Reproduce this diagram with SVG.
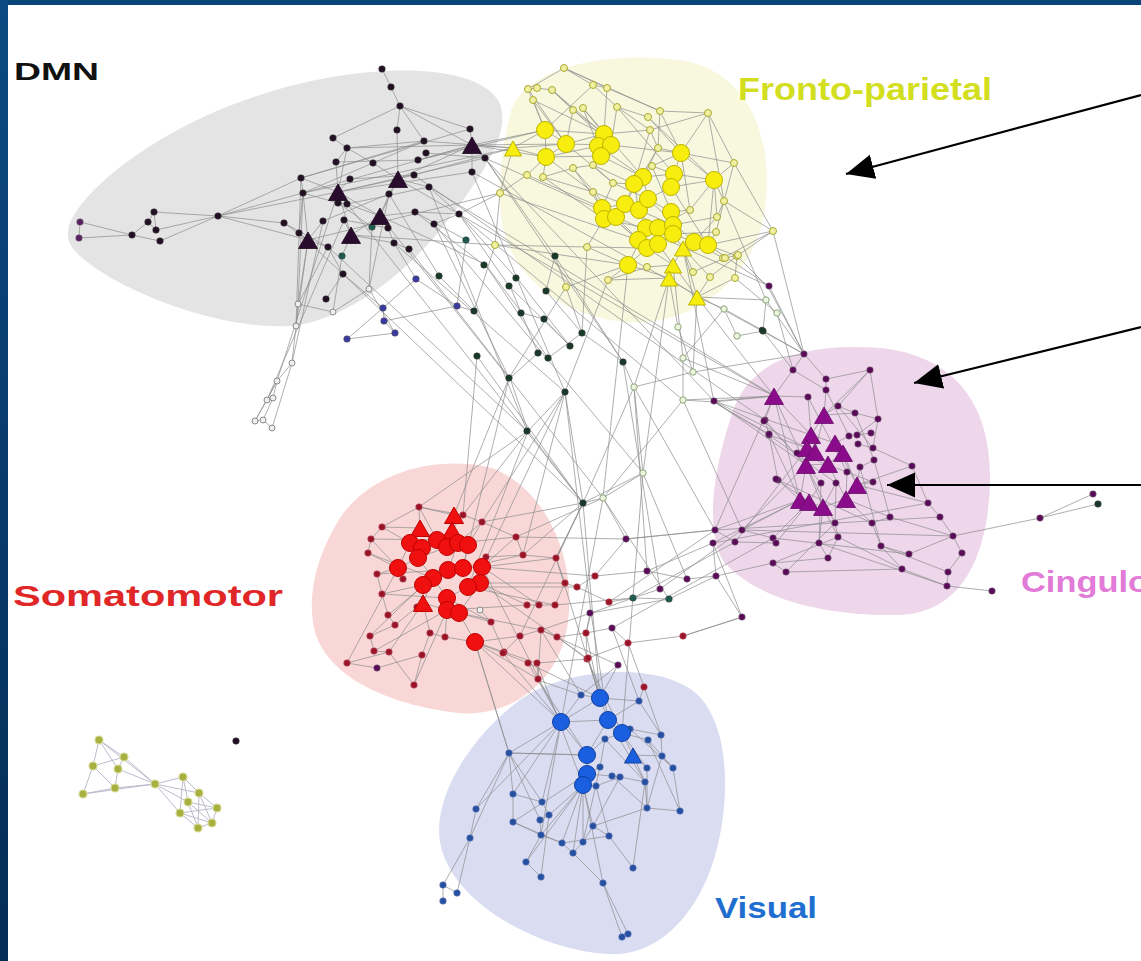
<svg xmlns="http://www.w3.org/2000/svg" xmlns:xlink="http://www.w3.org/1999/xlink" width="1141" height="961" viewBox="0 0 1141 961">
<defs>
<linearGradient id="frame" x1="0" y1="0" x2="0" y2="1"><stop offset="0" stop-color="#0b4a82"/><stop offset="1" stop-color="#052c55"/></linearGradient>
<marker id="ah" markerUnits="userSpaceOnUse" markerWidth="30" markerHeight="28" refX="28" refY="12.5" orient="auto"><path d="M0,0 L28,12.5 L0,25 Z" fill="#000"/></marker>
<path id="t" d="M0,-10 L9.5,6.5 L-9.5,6.5 Z"/>
<path id="ts" d="M0,-9 L8.5,6 L-8.5,6 Z"/>
<style>
.e{fill:none;stroke:#8e8e8e;stroke-width:0.9;opacity:0.8}
.eo{fill:none;stroke:#b4b4c8;stroke-width:0.9}
.lbl{font-family:"Liberation Sans",Arial,sans-serif;font-weight:bold}
.d{fill:#221022;stroke:#444;stroke-width:0.5}
.dp{fill:#5a2060;stroke:#777;stroke-width:0.5}
.dt{fill:#2a0c2e;stroke:#1a0a1a;stroke-width:0.8}
.tl{fill:#1f5a4e;stroke:#444;stroke-width:0.5}
.g{fill:#eeeeee;stroke:#8a8a8a;stroke-width:1}
.bp{fill:#3a3aa0;stroke:#555;stroke-width:0.5}
.dg{fill:#183828;stroke:#444;stroke-width:0.5}
.lg{fill:#eef3e0;stroke:#8aa878;stroke-width:1}
.ys{fill:#f0f0a0;stroke:#a8a830;stroke-width:1}
.yb{fill:#f7ee10;stroke:#bdb400;stroke-width:1}
.pt{fill:#8a0c8a;stroke:#6a0a6a;stroke-width:0.8}
.ps{fill:#5a0a58;stroke:#888;stroke-width:0.5}
.rb{fill:#f01010;stroke:#c00000;stroke-width:1}
.rs{fill:#9a1428;stroke:#c06070;stroke-width:0.6}
.bb{fill:#1a5fe0;stroke:#1040a0;stroke-width:1}
.bs{fill:#2450a0;stroke:#7080c0;stroke-width:0.6}
.ol{fill:#a8b040;stroke:#d8dc98;stroke-width:1.2}
.arr{stroke:#000;stroke-width:2.2;fill:none;marker-end:url(#ah)}
</style>
</defs>
<rect x="0" y="0" width="1141" height="961" fill="#ffffff"/>
<rect x="0" y="0" width="1141" height="5" fill="#0a4478"/>
<rect x="0" y="0" width="8" height="961" fill="url(#frame)"/>

<g id="regions">
<path d="M68,232 C70,200 150,130 260,95 C350,65 470,58 498,100 C515,130 480,180 440,230 C400,280 340,322 290,326 C220,330 120,292 80,256 C70,247 67,240 68,232 Z" fill="#e4e4e4"/>
<path d="M510,115 C520,70 600,50 680,60 C745,70 772,130 766,200 C760,272 700,326 628,322 C560,318 500,272 500,200 C500,160 504,140 510,115 Z" fill="#f8f8de"/>
<path d="M730,420 C745,362 800,342 880,348 C952,355 992,402 990,482 C988,562 958,614 898,615 C830,616 760,602 724,562 C704,530 714,470 730,420 Z" fill="#eed6eb"/>
<path d="M340,518 C372,470 440,455 492,468 C548,490 576,560 568,622 C560,684 508,718 458,713 C398,706 330,682 315,632 C305,592 320,550 340,518 Z" fill="#f9d7d7"/>
<path d="M520,700 C560,670 650,660 692,690 C732,720 730,802 716,852 C700,912 660,957 608,954 C538,950 450,902 440,842 C432,792 478,730 520,700 Z" fill="#dadcf2"/>
</g>

<g id="connectors">
<path class="e" d="M80 222L79 238M80 222L132 235M79 238L132 235M132 235L148 222M132 235L160 241M148 222L154 212M154 212L218 216M156 230L218 216M160 241L218 216M148 222L156 230M154 212L156 230M218 216L301 178M218 216L303 193M218 216L284 223M218 216L308 240M218 216L338 192M382 69L391 87M391 87L400 106M400 106L397 130M400 106L470 129M400 106L472 145M400 106L424 141M400 106L333 138M397 130L398 179M333 138L347 148M347 148L338 192M347 148L336 162M347 148L424 141M347 148L472 145M336 162L338 192M373 163L398 179M373 163L347 148M350 179L338 192M301 178L303 193M301 178L338 192M303 193L308 240M303 193L338 203M303 193L472 145M303 193L424 141M301 178L470 129M338 192L380 216M338 192L351 235M338 192L398 179M338 192L485 158M338 192L472 172M338 203L347 204M347 204L380 216M323 221L308 240M344 220L351 235M284 223L308 240M299 233L308 240M308 240L328 247M308 240L296 326M308 240L298 304M328 247L343 274M343 274L326 299M351 235L342 256M351 235L380 216M351 235L394 243M380 216L398 179M380 216L415 212M380 216L389 194M380 216L372 227M380 216L388 228M398 179L389 194M398 179L472 145M398 179L429 187M398 179L414 175M472 145L470 129M472 145L485 158M472 145L472 172M472 145L418 160M472 145L513 148M472 145L545 130M472 145L566 144M472 145L546 157M426 153L485 158M424 141L513 148M418 160L545 130M414 175L513 148M429 187L459 214M415 212L459 214M434 224L459 214M409 249L394 243M388 228L394 243M372 227L369 289M389 194L369 289M342 256L333 312M328 247L298 304M343 274L383 308M394 243L416 279M416 279L383 308M383 308L384 321M384 321L395 333M395 333L347 339M347 339L383 308M416 279L457 306M457 306L384 321M457 306L474 311M439 276L474 311M466 240L457 306M466 240L415 212M459 214L509 286M459 214L516 278M434 224L509 378M429 187L527 431M485 158L555 256M485 158L623 362M472 172L565 392M296 326L292 363M292 363L277 381M277 381L267 400M277 381L273 398M267 400L255 421M273 398L263 420M263 420L272 428M255 421L263 420M296 326L298 304M298 304L303 193M296 326L301 178M292 363L323 221M277 381L338 192M267 400L344 220M272 428L292 363M255 421L277 381M333 312L369 289M333 312L298 304M369 289L395 333M338 192L583 503M380 216L509 378M394 243L565 392M409 249L603 498M328 247L527 431M434 224L643 473M459 214L683 400M343 274L583 503M398 179L774 396M472 145L714 401M429 187L773 395M485 158L769 286M472 172L804 354M414 175L765 420M303 193L513 148M308 240L500 193M351 235L495 245M380 216L485 264M389 194L439 276M415 212L484 265M301 178L424 141M336 162L418 160M350 179L414 175M347 204L429 187M323 221L389 194M344 220L388 228M299 233L343 274M284 223L328 247M303 193L299 233M338 203L372 227"/>
<path class="e" d="M564 68L593 85M564 68L528 89M564 68L607 88M564 68L660 111M593 85L607 88M593 85L617 107M593 85L545 130M607 88L604 134M607 88L660 111M528 89L537 88M537 88L552 90M528 89L545 130M533 100L545 130M533 100L566 144M552 90L573 110M552 90L604 134M583 108L604 134M573 110L566 144M617 107L611 145M617 107L648 117M660 111L708 113M660 111L681 153M648 117L681 153M708 113L734 163M708 113L681 153M708 113L650 130M650 130L604 134M658 148L681 153M658 148L643 177M734 163L714 180M734 163L724 201M734 163L681 153M724 201L714 180M724 201L717 217M724 201L773 231M773 231L737 256M773 231L708 245M716 232L708 245M717 217L694 242M690 210L671 212M690 210L714 180M545 130L566 144M545 130L546 157M566 144L546 157M566 144L604 134M546 157L598 146M546 157L527 175M546 157L543 177M604 134L611 145M604 134L598 146M598 146L601 156M611 145L601 156M601 156L643 177M601 156L593 165M573 168L593 165M573 168L602 208M593 165L634 184M613 183L634 184M613 183L602 208M652 166L643 177M652 166L674 174M643 177L634 184M643 177L674 174M674 174L671 187M674 174L681 153M671 187L714 180M671 187L648 199M634 184L625 204M625 204L602 208M602 208L604 219M604 219L616 217M616 217L625 204M625 204L639 210M639 210L648 199M648 199L671 212M671 212L673 225M673 225L658 228M658 228L646 228M646 228L639 210M646 228L638 240M638 240L647 248M647 248L658 244M658 244L673 234M673 234L694 242M694 242L708 245M673 234L683 248M683 248L673 265M673 265L669 278M669 278L697 297M683 248L697 297M647 248L628 265M628 265L608 280M628 265L587 247M587 247L604 219M593 192L602 208M593 192L543 177M527 175L500 193M500 193L495 245M495 245L587 247M543 177L573 168M513 148L545 130M513 148L546 157M513 148L500 193M513 148L566 144M710 277L697 297M735 278L697 297M737 256L708 245M723 258L694 242M725 258L738 255M693 272L683 248M647 267L673 265M608 280L669 278M566 287L628 265M608 280L647 267M545 130L604 134M566 144L611 145M546 157L601 156M598 146L643 177M611 145L681 153M604 219L646 228M616 217L647 248M602 208L638 240M625 204L658 228M639 210L673 225M648 199L694 242M671 187L708 245M674 174L714 180M643 177L648 199M634 184L639 210M652 166L681 153M658 148L650 130M593 165L613 183M573 110L604 134M583 108L598 146M617 107L650 130M660 111L658 148M681 153L714 180M714 180L708 245M717 217L673 225M716 232L673 234M690 210L658 228M628 265L646 228M638 240L602 208M697 297L658 244M669 278L628 265M673 265L647 248M683 248L708 245M737 256L735 278M710 277L683 248M533 100L604 134M528 89L566 144M552 90L611 145M583 108L643 177M617 107L674 174M648 117L714 180M708 113L724 201M650 130L634 184M658 148L625 204M566 144L613 183M546 157L593 192M527 175L602 208M543 177L604 219M573 168L616 217M500 193L638 240M495 245L628 265M587 247L647 248M593 192L639 210M613 183L648 199M652 166L671 212M681 153L690 210M714 180L717 217M724 201L716 232M773 231L723 258M738 255L710 277M725 258L693 272M734 163L773 231"/>
<path class="e" d="M697 297L724 309M697 297L766 300M669 278L678 327M669 278L634 387M673 265L683 358M697 297L773 395M708 245L769 286M737 256L768 287M735 278L777 313M773 231L804 354M724 201L766 300M669 278L643 473M628 265L603 498M683 248L714 402M697 297L693 372M587 247L582 333M608 280L565 392M566 287L509 378M500 193L459 214M495 245L474 311M724 309L737 336M737 336L763 331M724 309L683 358M678 327L693 372M683 358L683 400M693 372L634 387M634 387L643 473M643 473L603 498M683 400L603 498M683 400L714 402M714 402L774 396M714 402L769 434M683 358L773 395M693 372L804 354M766 300L804 354M777 313L793 370M603 498L583 503M583 503L565 392M565 392L528 431M528 431L583 503M643 473L583 503M603 498L626 539M634 387L583 503M623 362L634 387M582 333L623 362M548 358L582 333M538 353L510 378M510 378L528 431M522 313L544 319M544 319L570 346M546 291L582 333M555 256L582 333M517 278L570 346M510 286L538 353M485 264L522 313M555 256L546 291M583 503L556 558M583 503L523 555M583 503L600 698M603 498L561 722M565 392L482 567M528 431L468 587M643 473L622 733M634 387L647 571M683 400L742 530M623 362L660 589M477 356L583 503M509 378L463 568M565 392L591 613M603 498L669 599M643 473L687 579M634 387L715 530M516 537L626 539M626 539L715 530M762 330L804 354M762 330L724 309M766 300L763 331M768 287L804 354M555 256L623 362M485 264L548 358M509 286L570 346"/>
<path class="e" d="M804 354L793 370M804 354L826 379M793 370L774 396M793 370L826 390M870 370L826 379M870 370L824 415M870 370L838 406M826 379L826 390M826 390L824 415M808 397L774 396M808 397L811 435M714 401L774 396M714 401L811 435M714 401L807 448M714 401L806 465M765 420L774 396M765 420L769 435M769 435L778 480M769 435L807 448M774 396L811 435M774 396L806 465M774 396L800 500M824 415L811 435M824 415L838 406M824 415L855 413M838 406L855 413M855 413L878 419M878 419L857 435M878 419L873 448M871 433L857 435M849 436L835 443M873 448L858 444M874 460L860 467M860 467L857 485M847 472L846 499M836 483L823 507M821 483L809 502M873 482L857 485M912 466L857 485M912 466L873 448M797 453L807 448M778 480L800 500M811 435L835 443M835 443L843 453M843 453L828 464M828 464L806 465M806 465L807 448M807 448L815 452M815 452L811 435M857 485L846 499M846 499L823 507M823 507L809 502M809 502L800 500M800 500L806 465M828 464L846 499M815 452L828 464M843 453L857 485M824 415L815 452M835 443L857 485M806 465L823 507M800 500L742 530M800 500L715 530M800 500L713 543M809 502L773 538M809 502L776 543M823 507L838 537M823 507L819 543M846 499L872 523M846 499L890 517M857 485L928 503M928 503L940 517M940 517L953 536M953 536L962 553M953 536L1040 518M1040 518L1093 494M1040 518L1098 504M953 536L909 554M909 554L881 546M881 546L902 569M948 572L947 586M947 586L992 591M948 572L962 553M902 569L947 586M872 523L881 546M835 523L838 537M838 537L828 558M819 543L828 558M828 558L773 563M773 563L786 572M773 538L742 530M776 543L735 542M735 542L715 530M713 543L716 576M716 576L773 563M742 617L713 543M742 617L716 576M742 530L806 465M735 542L807 448M715 530L774 396M890 517L872 523M890 517L953 536M835 523L806 465M838 537L902 569M881 546L948 572M819 543L947 586M786 572L902 569M773 538L909 554M742 530L953 536M715 530L940 517M713 543L928 503M715 530L626 539M713 543L647 571M742 530L660 589M716 576L669 599M716 576L687 579M742 617L683 636M735 542L633 598M715 530L609 602M773 538L612 628M774 396L683 400M769 435L714 402M743 617L683 636M762 330L793 370M769 286L804 354M769 434L800 500M764 421L806 465M776 479L809 502M773 563L838 537M786 572L835 523M870 370L878 419M838 406L873 448M855 413L874 460M826 390L849 436M808 397L847 472M765 420L821 483M769 435L836 483M797 453L873 482M778 480L872 523M912 466L928 503M874 460L890 517M860 467L881 546M836 483L835 523M821 483L819 543"/>
<path class="e" d="M419 507L420 528M419 507L454 515M419 507L382 527M419 507L463 515M463 515L454 515M463 515L482 522M482 522L516 537M482 522L468 545M382 527L371 539M382 527L410 543M371 539L398 568M368 553L398 568M368 553L371 539M377 574L398 568M377 574L382 594M382 594L423 585M382 594L388 615M403 579L398 568M388 615L395 625M395 625L370 636M370 636L374 651M374 651L389 652M389 652L347 663M347 663L377 668M377 668L422 655M422 655L430 633M430 633L445 637M445 637L447 610M430 633L423 603M417 607L423 603M417 607L395 625M414 685L422 655M414 685L389 652M486 557L482 567M523 555L486 557M523 555L556 558M556 558L565 583M516 537L523 555M480 610L491 622M491 622L504 652M504 652L520 636M520 636L541 630M541 630L557 637M527 605L539 605M539 605L555 605M555 605L565 583M565 583L577 587M577 587L595 576M591 613L586 633M586 633L587 659M587 659L537 663M537 663L538 679M527 605L480 583M539 605L482 567M555 605L468 587M491 622L459 613M475 642L504 652M475 642L459 613M475 642L445 637M475 642L538 679M475 642L520 636M475 642L561 722M475 642L509 753M410 543L422 548M422 548L437 540M437 540L447 547M447 547L458 543M458 543L468 545M398 568L418 558M418 558L433 578M433 578L423 585M423 585L448 570M448 570L463 568M463 568L482 567M482 567L480 583M480 583L468 587M468 587L447 598M447 598L447 610M447 610L459 613M420 528L410 543M454 515L452 530M452 530L458 543M420 528L437 540M423 603L433 578M398 568L410 543M418 558L447 547M448 570L458 543M463 568L468 545M433 578L447 598M423 585L423 603M459 613L480 583M447 610L423 603M371 539L437 540M368 553L433 578M377 574L448 570M382 594L447 598M388 615L433 578M370 636L423 585M374 651L447 610M389 652L423 603M347 663L398 568M516 537L458 543M523 555L463 568M556 558L482 567M565 583L480 583M577 587L468 587M595 576L482 567M527 605L447 610M541 630L459 613M557 637L480 583M491 622L447 598M382 527L420 528M419 507L437 540M463 515L452 530M482 522L458 543M516 537L482 567M591 613L541 630M586 633L557 637M587 659L557 637M537 663L504 652M538 679L541 630M414 685L447 610M595 576L626 539M595 576L647 571M577 587L609 602M591 613L633 598M586 633L612 628M591 613L669 599M557 637L588 659M541 630L618 665M555 605L633 598M520 636L583 503M556 558L583 503M523 555L565 392M482 522L565 392M463 515L528 431M454 515L509 378M516 537L603 498M482 522L583 503M419 507L528 431M463 515L477 356M609 602L633 598M633 598L669 599M612 628L628 643M586 634L590 613M683 636L628 643M647 571L687 579M660 589L633 598"/>
<path class="e" d="M600 698L581 695M600 698L608 720M600 698L639 701M600 698L561 722M600 698L588 658M600 698L618 665M581 695L561 722M581 695L538 680M561 722L608 720M561 722L587 755M561 722L509 753M561 722L513 794M561 722L541 835M608 720L622 733M608 720L639 701M608 720L587 755M622 733L630 729M622 733L633 755M622 733L648 740M622 733L605 739M639 701L644 687M639 701L661 735M630 729L661 735M661 735L662 756M662 756L673 768M648 740L673 768M633 755L647 768M633 755L645 782M633 755L662 756M645 782L647 808M647 808L680 811M673 768L680 811M587 755L605 739M587 755L587 774M587 774L583 785M587 774L600 767M587 774L612 776M612 776L620 777M620 777L645 782M583 785L596 786M583 785L541 835M583 785L562 843M583 785L573 853M583 785L583 842M583 785L593 826M583 785L549 815M583 785L526 862M583 785L603 883M587 755L509 753M587 774L513 822M509 753L513 794M509 753L476 809M509 753L542 802M509 753L540 820M509 753L470 838M509 753L587 755M513 794L513 822M513 794L542 802M476 809L470 838M470 838L443 885M470 838L457 893M443 885L457 893M443 885L443 901M513 822L541 835M542 802L549 815M549 815L540 820M540 820L541 835M541 835L526 862M541 835L562 843M562 843L573 853M573 853L583 842M583 842L593 826M593 826L609 836M609 836L633 868M593 826L647 808M603 883L622 937M603 883L628 934M603 883L573 853M526 862L541 877M541 877L549 815M562 843L609 836M600 767L605 739M596 786L620 777M561 722L476 809M608 720L645 782M622 733L647 768M561 722L542 802M513 822L562 843M503 653L528 663M528 663L538 680M538 680L561 722M503 653L475 642M588 658L600 698M588 658L628 643M628 643L644 687M618 665L581 695M644 687L661 735M528 663L600 698M503 653L561 722M538 680L587 755M561 722L482 567M600 698L556 558M608 720L591 613M581 695L541 630M600 698L586 633M622 733L587 659M639 701L612 628M583 785L537 663M509 753L475 642M630 729L673 768M648 740L680 811M605 739L645 782M612 776L647 808M600 767L583 842M596 786L609 836M620 777L593 826M645 782L633 868M647 768L647 808M662 756L647 808"/>
<path class="eo" d="M99 740L124 757M99 740L93 766M99 740L118 769M99 740L155 784M124 757L118 769M124 757L93 766M124 757L155 784M93 766L83 794M93 766L115 788M118 769L115 788M118 769L155 784M115 788L83 794M115 788L155 784M83 794L155 784M155 784L183 777M155 784L199 793M155 784L188 802M155 784L180 813M183 777L199 793M183 777L188 802M183 777L180 813M199 793L217 808M199 793L212 823M188 802L217 808M188 802L198 828M180 813L212 823M180 813L198 828M217 808L212 823M212 823L198 828M199 793L198 828M188 802L212 823M180 813L217 808"/>
</g>

<g id="dmn-nodes">
<circle class="dp" cx="80" cy="222" r="3.3"/><circle class="dp" cx="79" cy="238" r="3.3"/>
<circle class="d" cx="382" cy="69" r="3.3"/><circle class="d" cx="391" cy="87" r="3.3"/><circle class="d" cx="400" cy="106" r="3.3"/><circle class="d" cx="397" cy="130" r="3.3"/><circle class="d" cx="333" cy="138" r="3.3"/><circle class="d" cx="347" cy="148" r="3.3"/><circle class="d" cx="336" cy="162" r="3.3"/><circle class="d" cx="373" cy="163" r="3.3"/><circle class="d" cx="350" cy="179" r="3.3"/><circle class="d" cx="301" cy="178" r="3.3"/><circle class="d" cx="303" cy="193" r="3.3"/><circle class="d" cx="338" cy="203" r="3.3"/><circle class="d" cx="347" cy="204" r="3.3"/><circle class="d" cx="323" cy="221" r="3.3"/><circle class="d" cx="344" cy="220" r="3.3"/><circle class="d" cx="284" cy="223" r="3.3"/><circle class="d" cx="299" cy="233" r="3.3"/><circle class="d" cx="328" cy="247" r="3.3"/><circle class="d" cx="343" cy="274" r="3.3"/><circle class="d" cx="326" cy="299" r="3.3"/><circle class="d" cx="389" cy="194" r="3.3"/><circle class="d" cx="388" cy="228" r="3.3"/><circle class="d" cx="415" cy="212" r="3.3"/><circle class="d" cx="429" cy="187" r="3.3"/><circle class="d" cx="459" cy="214" r="3.3"/><circle class="d" cx="434" cy="224" r="3.3"/><circle class="d" cx="394" cy="243" r="3.3"/><circle class="d" cx="409" cy="249" r="3.3"/><circle class="d" cx="470" cy="129" r="3.3"/><circle class="d" cx="424" cy="141" r="3.3"/><circle class="d" cx="426" cy="153" r="3.3"/><circle class="d" cx="418" cy="160" r="3.3"/><circle class="d" cx="414" cy="175" r="3.3"/><circle class="d" cx="485" cy="158" r="3.3"/><circle class="d" cx="472" cy="172" r="3.3"/><circle class="d" cx="218" cy="216" r="3.3"/><circle class="d" cx="154" cy="212" r="3.3"/><circle class="d" cx="148" cy="222" r="3.3"/><circle class="d" cx="156" cy="230" r="3.3"/><circle class="d" cx="160" cy="241" r="3.3"/><circle class="d" cx="132" cy="235" r="3.3"/>
<circle class="tl" cx="342" cy="256" r="3.3"/><circle class="tl" cx="372" cy="227" r="3.3"/><circle class="tl" cx="466" cy="240" r="3.3"/>
<use href="#t" class="dt" x="338" y="194"/><use href="#t" class="dt" x="398" y="181"/><use href="#t" class="dt" x="472" y="147"/><use href="#t" class="dt" x="380" y="218"/><use href="#t" class="dt" x="351" y="237"/><use href="#t" class="dt" x="308" y="242"/>
<circle class="g" cx="369" cy="289" r="3"/><circle class="g" cx="333" cy="312" r="3"/><circle class="g" cx="298" cy="304" r="3"/><circle class="g" cx="296" cy="326" r="3"/><circle class="g" cx="292" cy="363" r="3"/><circle class="g" cx="277" cy="381" r="3"/><circle class="g" cx="267" cy="400" r="3"/><circle class="g" cx="273" cy="398" r="3"/><circle class="g" cx="255" cy="421" r="3"/><circle class="g" cx="263" cy="420" r="3"/><circle class="g" cx="272" cy="428" r="3"/>
<circle class="bp" cx="416" cy="279" r="3.3"/><circle class="bp" cx="383" cy="308" r="3.3"/><circle class="bp" cx="384" cy="321" r="3.3"/><circle class="bp" cx="395" cy="333" r="3.3"/><circle class="bp" cx="347" cy="339" r="3.3"/><circle class="bp" cx="457" cy="306" r="3.3"/>
</g>

<g id="mid-nodes">
<circle class="dg" cx="484" cy="265" r="3.3"/><circle class="dg" cx="439" cy="276" r="3.3"/><circle class="dg" cx="474" cy="311" r="3.3"/><circle class="dg" cx="516" cy="278" r="3.3"/><circle class="dg" cx="509" cy="286" r="3.3"/><circle class="dg" cx="521" cy="313" r="3.3"/><circle class="dg" cx="477" cy="356" r="3.3"/><circle class="dg" cx="509" cy="378" r="3.3"/><circle class="dg" cx="527" cy="431" r="3.3"/><circle class="dg" cx="555" cy="256" r="3.3"/><circle class="dg" cx="546" cy="291" r="3.3"/><circle class="dg" cx="544" cy="319" r="3.3"/><circle class="dg" cx="582" cy="333" r="3.3"/><circle class="dg" cx="570" cy="346" r="3.3"/><circle class="dg" cx="538" cy="353" r="3.3"/><circle class="dg" cx="548" cy="358" r="3.3"/><circle class="dg" cx="623" cy="362" r="3.3"/><circle class="dg" cx="565" cy="392" r="3.3"/><circle class="dg" cx="583" cy="503" r="3.3"/><circle class="dg" cx="763" cy="331" r="3.3"/><circle class="dg" cx="762" cy="330" r="3"/>
<circle class="lg" cx="603" cy="498" r="3.2"/><circle class="lg" cx="643" cy="473" r="3.2"/><circle class="lg" cx="634" cy="387" r="3.2"/><circle class="lg" cx="683" cy="400" r="3.2"/><circle class="lg" cx="693" cy="372" r="3.2"/><circle class="lg" cx="683" cy="358" r="3.2"/><circle class="lg" cx="678" cy="327" r="3.2"/><circle class="lg" cx="724" cy="309" r="3.2"/><circle class="lg" cx="737" cy="336" r="3.2"/><circle class="lg" cx="766" cy="300" r="3.2"/><circle class="lg" cx="777" cy="313" r="3.2"/>
</g>

<g id="fronto-parietal-nodes">
<circle class="ys" cx="564" cy="68" r="3.5"/><circle class="ys" cx="593" cy="85" r="3.5"/><circle class="ys" cx="607" cy="88" r="3.5"/><circle class="ys" cx="528" cy="89" r="3.5"/><circle class="ys" cx="537" cy="88" r="3.5"/><circle class="ys" cx="552" cy="90" r="3.5"/><circle class="ys" cx="533" cy="100" r="3.5"/><circle class="ys" cx="583" cy="108" r="3.5"/><circle class="ys" cx="573" cy="110" r="3.5"/><circle class="ys" cx="617" cy="107" r="3.5"/><circle class="ys" cx="660" cy="111" r="3.5"/><circle class="ys" cx="708" cy="113" r="3.5"/><circle class="ys" cx="648" cy="117" r="3.5"/><circle class="ys" cx="734" cy="163" r="3.5"/><circle class="ys" cx="724" cy="201" r="3.5"/><circle class="ys" cx="773" cy="231" r="3.5"/><circle class="ys" cx="527" cy="175" r="3.5"/><circle class="ys" cx="500" cy="193" r="3.5"/><circle class="ys" cx="543" cy="177" r="3.5"/><circle class="ys" cx="495" cy="245" r="3.5"/><circle class="ys" cx="587" cy="247" r="3.5"/><circle class="ys" cx="608" cy="280" r="3.5"/><circle class="ys" cx="737" cy="256" r="3.5"/><circle class="ys" cx="723" cy="258" r="3.5"/><circle class="ys" cx="735" cy="278" r="3.5"/><circle class="ys" cx="710" cy="277" r="3.5"/><circle class="ys" cx="573" cy="168" r="3.5"/><circle class="ys" cx="593" cy="165" r="3.5"/><circle class="ys" cx="613" cy="183" r="3.5"/><circle class="ys" cx="652" cy="166" r="3.5"/><circle class="ys" cx="650" cy="130" r="3.5"/><circle class="ys" cx="658" cy="148" r="3.5"/><circle class="ys" cx="593" cy="192" r="3.5"/><circle class="ys" cx="717" cy="217" r="3.5"/><circle class="ys" cx="716" cy="232" r="3.5"/><circle class="ys" cx="690" cy="210" r="3.5"/><circle class="ys" cx="566" cy="287" r="3.5"/><circle class="ys" cx="647" cy="267" r="3.5"/><circle class="ys" cx="693" cy="272" r="3.5"/><circle class="ys" cx="725" cy="258" r="3.5"/><circle class="ys" cx="738" cy="255" r="3.5"/>
<circle class="yb" cx="545" cy="130" r="8.5"/><circle class="yb" cx="566" cy="144" r="8.5"/><circle class="yb" cx="546" cy="157" r="8.5"/><circle class="yb" cx="604" cy="134" r="8.5"/><circle class="yb" cx="598" cy="146" r="8.5"/><circle class="yb" cx="611" cy="145" r="8.5"/><circle class="yb" cx="601" cy="156" r="8.5"/><circle class="yb" cx="681" cy="153" r="8.5"/><circle class="yb" cx="643" cy="177" r="8.5"/><circle class="yb" cx="634" cy="184" r="8.5"/><circle class="yb" cx="674" cy="174" r="8.5"/><circle class="yb" cx="671" cy="187" r="8.5"/><circle class="yb" cx="714" cy="180" r="8.5"/><circle class="yb" cx="602" cy="208" r="8.5"/><circle class="yb" cx="604" cy="219" r="8.5"/><circle class="yb" cx="616" cy="217" r="8.5"/><circle class="yb" cx="625" cy="204" r="8.5"/><circle class="yb" cx="639" cy="210" r="8.5"/><circle class="yb" cx="648" cy="199" r="8.5"/><circle class="yb" cx="671" cy="212" r="8.5"/><circle class="yb" cx="646" cy="228" r="8.5"/><circle class="yb" cx="658" cy="228" r="8.5"/><circle class="yb" cx="673" cy="225" r="8.5"/><circle class="yb" cx="673" cy="234" r="8.5"/><circle class="yb" cx="638" cy="240" r="8.5"/><circle class="yb" cx="647" cy="248" r="8.5"/><circle class="yb" cx="658" cy="244" r="8.5"/><circle class="yb" cx="694" cy="242" r="8.5"/><circle class="yb" cx="708" cy="245" r="8.5"/><circle class="yb" cx="628" cy="265" r="8.5"/>
<use href="#ts" class="yb" x="513" y="150"/><use href="#ts" class="yb" x="683" y="250"/><use href="#ts" class="yb" x="673" y="267"/><use href="#ts" class="yb" x="669" y="280"/><use href="#ts" class="yb" x="697" y="299"/>
</g>

<g id="cingulo-opercular-nodes">
<circle class="ps" cx="804" cy="354" r="3.3"/><circle class="ps" cx="793" cy="370" r="3.3"/><circle class="ps" cx="870" cy="370" r="3.3"/><circle class="ps" cx="826" cy="379" r="3.3"/><circle class="ps" cx="826" cy="390" r="3.3"/><circle class="ps" cx="808" cy="397" r="3.3"/><circle class="ps" cx="714" cy="401" r="3.3"/><circle class="ps" cx="838" cy="406" r="3.3"/><circle class="ps" cx="855" cy="413" r="3.3"/><circle class="ps" cx="878" cy="419" r="3.3"/><circle class="ps" cx="765" cy="420" r="3.3"/><circle class="ps" cx="769" cy="435" r="3.3"/><circle class="ps" cx="857" cy="435" r="3.3"/><circle class="ps" cx="871" cy="433" r="3.3"/><circle class="ps" cx="849" cy="436" r="3.3"/><circle class="ps" cx="873" cy="448" r="3.3"/><circle class="ps" cx="858" cy="444" r="3.3"/><circle class="ps" cx="874" cy="460" r="3.3"/><circle class="ps" cx="860" cy="467" r="3.3"/><circle class="ps" cx="847" cy="472" r="3.3"/><circle class="ps" cx="836" cy="483" r="3.3"/><circle class="ps" cx="821" cy="483" r="3.3"/><circle class="ps" cx="873" cy="482" r="3.3"/><circle class="ps" cx="912" cy="466" r="3.3"/><circle class="ps" cx="778" cy="480" r="3.3"/><circle class="ps" cx="797" cy="453" r="3.3"/><circle class="ps" cx="928" cy="503" r="3.3"/><circle class="ps" cx="940" cy="517" r="3.3"/><circle class="ps" cx="890" cy="517" r="3.3"/><circle class="ps" cx="872" cy="523" r="3.3"/><circle class="ps" cx="835" cy="523" r="3.3"/><circle class="ps" cx="953" cy="536" r="3.3"/><circle class="ps" cx="962" cy="553" r="3.3"/><circle class="ps" cx="909" cy="554" r="3.3"/><circle class="ps" cx="881" cy="546" r="3.3"/><circle class="ps" cx="902" cy="569" r="3.3"/><circle class="ps" cx="948" cy="572" r="3.3"/><circle class="ps" cx="947" cy="586" r="3.3"/><circle class="ps" cx="992" cy="591" r="3.3"/><circle class="ps" cx="1040" cy="518" r="3.3"/><circle class="ps" cx="1093" cy="494" r="3.3"/><circle class="dg" cx="1098" cy="504" r="3.3"/><circle class="ps" cx="838" cy="537" r="3.3"/><circle class="ps" cx="819" cy="543" r="3.3"/><circle class="ps" cx="828" cy="558" r="3.3"/><circle class="ps" cx="773" cy="538" r="3.3"/><circle class="ps" cx="776" cy="543" r="3.3"/><circle class="ps" cx="773" cy="563" r="3.3"/><circle class="ps" cx="786" cy="572" r="3.3"/><circle class="ps" cx="742" cy="530" r="3.3"/><circle class="ps" cx="735" cy="542" r="3.3"/><circle class="ps" cx="715" cy="530" r="3.3"/><circle class="ps" cx="713" cy="543" r="3.3"/><circle class="ps" cx="716" cy="576" r="3.3"/><circle class="ps" cx="742" cy="617" r="3.3"/><circle class="ps" cx="769" cy="286" r="3.3"/><circle class="ps" cx="764" cy="421" r="3.3"/><circle class="ps" cx="769" cy="434" r="3.3"/><circle class="ps" cx="776" cy="479" r="3.3"/>
<circle class="ps" cx="626" cy="539" r="3.3"/><circle class="ps" cx="647" cy="571" r="3.3"/><circle class="ps" cx="660" cy="589" r="3.3"/><circle class="ps" cx="687" cy="579" r="3.3"/><circle class="ps" cx="590" cy="613" r="3.3"/><circle class="ps" cx="612" cy="628" r="3.3"/><circle class="ps" cx="618" cy="665" r="3.3"/><circle class="tl" cx="633" cy="598" r="3.3"/><circle class="tl" cx="669" cy="599" r="3.3"/>
<use href="#t" class="pt" x="774" y="398"/><use href="#t" class="pt" x="824" y="417"/><use href="#t" class="pt" x="811" y="437"/><use href="#t" class="pt" x="807" y="450"/><use href="#t" class="pt" x="835" y="445"/><use href="#t" class="pt" x="843" y="455"/><use href="#t" class="pt" x="828" y="466"/><use href="#t" class="pt" x="806" y="467"/><use href="#t" class="pt" x="857" y="487"/><use href="#t" class="pt" x="846" y="501"/><use href="#t" class="pt" x="800" y="502"/><use href="#t" class="pt" x="809" y="504"/><use href="#t" class="pt" x="823" y="509"/><use href="#t" class="pt" x="815" y="454"/>
</g>

<g id="somatomotor-nodes">
<circle class="rs" cx="419" cy="507" r="3.3"/><circle class="rs" cx="463" cy="515" r="3.3"/><circle class="rs" cx="482" cy="522" r="3.3"/><circle class="rs" cx="382" cy="527" r="3.3"/><circle class="rs" cx="371" cy="539" r="3.3"/><circle class="rs" cx="368" cy="553" r="3.3"/><circle class="rs" cx="516" cy="537" r="3.3"/><circle class="rs" cx="377" cy="574" r="3.3"/><circle class="rs" cx="382" cy="594" r="3.3"/><circle class="rs" cx="403" cy="579" r="3.3"/><circle class="rs" cx="388" cy="615" r="3.3"/><circle class="rs" cx="395" cy="625" r="3.3"/><circle class="rs" cx="370" cy="636" r="3.3"/><circle class="rs" cx="374" cy="651" r="3.3"/><circle class="rs" cx="389" cy="652" r="3.3"/><circle class="rs" cx="347" cy="663" r="3.3"/><circle class="ps" cx="377" cy="668" r="3.3"/><circle class="rs" cx="422" cy="655" r="3.3"/><circle class="rs" cx="430" cy="633" r="3.3"/><circle class="rs" cx="445" cy="637" r="3.3"/><circle class="rs" cx="417" cy="607" r="3.3"/><circle class="rs" cx="486" cy="557" r="3.3"/><circle class="rs" cx="523" cy="555" r="3.3"/><circle class="rs" cx="556" cy="558" r="3.3"/><circle class="g" cx="480" cy="610" r="3"/><circle class="rs" cx="491" cy="622" r="3.3"/><circle class="rs" cx="504" cy="652" r="3.3"/><circle class="rs" cx="520" cy="636" r="3.3"/><circle class="rs" cx="541" cy="630" r="3.3"/><circle class="rs" cx="557" cy="637" r="3.3"/><circle class="rs" cx="527" cy="605" r="3.3"/><circle class="rs" cx="539" cy="605" r="3.3"/><circle class="rs" cx="555" cy="605" r="3.3"/><circle class="rs" cx="565" cy="583" r="3.3"/><circle class="rs" cx="577" cy="587" r="3.3"/><circle class="rs" cx="595" cy="576" r="3.3"/><circle class="rs" cx="586" cy="633" r="3.3"/><circle class="rs" cx="587" cy="659" r="3.3"/><circle class="rs" cx="537" cy="663" r="3.3"/><circle class="rs" cx="538" cy="679" r="3.3"/><circle class="rs" cx="414" cy="685" r="3.3"/><circle class="rs" cx="609" cy="602" r="3.3"/><circle class="rs" cx="628" cy="643" r="3.3"/><circle class="rs" cx="683" cy="636" r="3.3"/><circle class="rs" cx="503" cy="653" r="3.3"/><circle class="rs" cx="528" cy="663" r="3.3"/><circle class="rs" cx="588" cy="658" r="3.3"/><circle class="rs" cx="644" cy="687" r="3.3"/>
<use href="#t" class="rb" x="420" y="530"/><use href="#t" class="rb" x="454" y="517"/><use href="#t" class="rb" x="452" y="532"/><use href="#t" class="rb" x="423" y="605"/>
<circle class="rb" cx="398" cy="568" r="8.5"/><circle class="rb" cx="410" cy="543" r="8.5"/><circle class="rb" cx="422" cy="548" r="8.5"/><circle class="rb" cx="418" cy="558" r="8.5"/><circle class="rb" cx="437" cy="540" r="8.5"/><circle class="rb" cx="447" cy="547" r="8.5"/><circle class="rb" cx="458" cy="543" r="8.5"/><circle class="rb" cx="468" cy="545" r="8.5"/><circle class="rb" cx="433" cy="578" r="8.5"/><circle class="rb" cx="423" cy="585" r="8.5"/><circle class="rb" cx="448" cy="570" r="8.5"/><circle class="rb" cx="463" cy="568" r="8.5"/><circle class="rb" cx="482" cy="567" r="8.5"/><circle class="rb" cx="480" cy="583" r="8.5"/><circle class="rb" cx="468" cy="587" r="8.5"/><circle class="rb" cx="447" cy="598" r="8.5"/><circle class="rb" cx="447" cy="610" r="8.5"/><circle class="rb" cx="459" cy="613" r="8.5"/><circle class="rb" cx="475" cy="642" r="8.5"/>
</g>

<g id="visual-nodes">
<circle class="bs" cx="581" cy="695" r="3.3"/><circle class="bs" cx="639" cy="701" r="3.3"/><circle class="bs" cx="605" cy="739" r="3.3"/><circle class="bs" cx="630" cy="729" r="3.3"/><circle class="bs" cx="648" cy="740" r="3.3"/><circle class="bs" cx="661" cy="735" r="3.3"/><circle class="bs" cx="662" cy="756" r="3.3"/><circle class="bs" cx="673" cy="768" r="3.3"/><circle class="bs" cx="647" cy="768" r="3.3"/><circle class="bs" cx="645" cy="782" r="3.3"/><circle class="bs" cx="612" cy="776" r="3.3"/><circle class="bs" cx="620" cy="777" r="3.3"/><circle class="bs" cx="600" cy="767" r="3.3"/><circle class="bs" cx="596" cy="786" r="3.3"/><circle class="bs" cx="509" cy="753" r="3.3"/><circle class="bs" cx="513" cy="794" r="3.3"/><circle class="bs" cx="476" cy="809" r="3.3"/><circle class="bs" cx="513" cy="822" r="3.3"/><circle class="bs" cx="542" cy="802" r="3.3"/><circle class="bs" cx="549" cy="815" r="3.3"/><circle class="bs" cx="540" cy="820" r="3.3"/><circle class="bs" cx="541" cy="835" r="3.3"/><circle class="bs" cx="562" cy="843" r="3.3"/><circle class="bs" cx="573" cy="853" r="3.3"/><circle class="bs" cx="583" cy="842" r="3.3"/><circle class="bs" cx="593" cy="826" r="3.3"/><circle class="bs" cx="609" cy="836" r="3.3"/><circle class="bs" cx="647" cy="808" r="3.3"/><circle class="bs" cx="680" cy="811" r="3.3"/><circle class="bs" cx="470" cy="838" r="3.3"/><circle class="bs" cx="526" cy="862" r="3.3"/><circle class="bs" cx="541" cy="877" r="3.3"/><circle class="bs" cx="633" cy="868" r="3.3"/><circle class="bs" cx="603" cy="883" r="3.3"/><circle class="bs" cx="443" cy="885" r="3.3"/><circle class="bs" cx="457" cy="893" r="3.3"/><circle class="bs" cx="443" cy="901" r="3.3"/><circle class="bs" cx="622" cy="937" r="3.3"/><circle class="bs" cx="628" cy="934" r="3.3"/>
<circle class="bb" cx="600" cy="698" r="8.5"/><circle class="bb" cx="561" cy="722" r="8.5"/><circle class="bb" cx="608" cy="720" r="8.5"/><circle class="bb" cx="622" cy="733" r="8.5"/><circle class="bb" cx="587" cy="755" r="8.5"/><circle class="bb" cx="587" cy="774" r="8.5"/><circle class="bb" cx="583" cy="785" r="8.5"/>
<use href="#ts" class="bb" x="633" y="757"/>
</g>

<g id="olive-nodes">
<circle class="ol" cx="99" cy="740" r="4"/><circle class="ol" cx="124" cy="757" r="4"/><circle class="ol" cx="93" cy="766" r="4"/><circle class="ol" cx="118" cy="769" r="4"/><circle class="ol" cx="115" cy="788" r="4"/><circle class="ol" cx="83" cy="794" r="4"/><circle class="ol" cx="155" cy="784" r="4"/><circle class="ol" cx="183" cy="777" r="4"/><circle class="ol" cx="199" cy="793" r="4"/><circle class="ol" cx="188" cy="802" r="4"/><circle class="ol" cx="180" cy="813" r="4"/><circle class="ol" cx="217" cy="808" r="4"/><circle class="ol" cx="212" cy="823" r="4"/><circle class="ol" cx="198" cy="828" r="4"/>
<circle class="d" cx="236" cy="741" r="3.3"/>
</g>

<g id="labels">
<text class="lbl" x="14" y="80" font-size="24" fill="#111" textLength="85" lengthAdjust="spacingAndGlyphs">DMN</text>
<text class="lbl" x="738" y="100" font-size="31" fill="#d3de1e" textLength="254" lengthAdjust="spacingAndGlyphs">Fronto-parietal</text>
<text class="lbl" x="13" y="606" font-size="30" fill="#e02626" textLength="270" lengthAdjust="spacingAndGlyphs">Somatomotor</text>
<text class="lbl" x="1021" y="592" font-size="30" fill="#e27ad8" textLength="128" lengthAdjust="spacingAndGlyphs">Cingulo</text>
<text class="lbl" x="715" y="918" font-size="30" fill="#1e6fd0" textLength="102" lengthAdjust="spacingAndGlyphs">Visual</text>
</g>

<g id="arrows">
<line class="arr" x1="1141" y1="95" x2="846" y2="174"/>
<line class="arr" x1="1141" y1="327" x2="914" y2="383"/>
<line class="arr" x1="1141" y1="485" x2="887" y2="485"/>
</g>
</svg>
